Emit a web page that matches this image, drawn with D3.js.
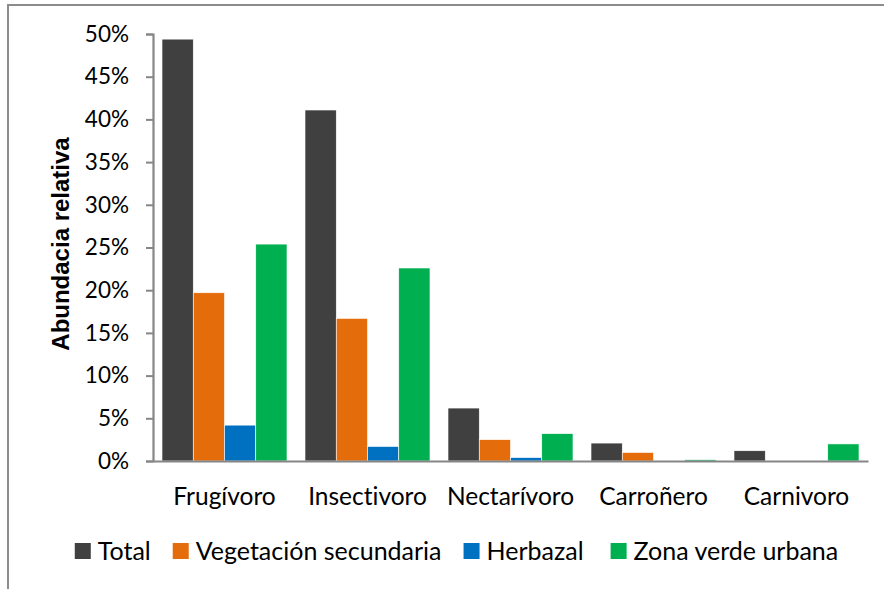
<!DOCTYPE html>
<html>
<head>
<meta charset="utf-8">
<script src="https://cdn.jsdelivr.net/npm/d3@7"></script>
<style>
  html, body { margin: 0; padding: 0; background: #fff; }
  svg { display: block; }
  text { font-variant-ligatures: none; font-feature-settings: "liga" 0; }
</style>
</head>
<body>
<svg id="chart" width="884" height="589"></svg>
<script>
// Gremios tróficos y abundancia relativa (%) por tipo de cobertura
const categories = ["Frugívoro", "Insectivoro", "Nectarívoro", "Carroñero", "Carnivoro"];
const seriesNames = ["Total", "Vegetación secundaria", "Herbazal", "Zona verde urbana"];
const total = [49.4, 41.1, 6.2, 2.1, 1.2];
const vegetacionSecundaria = [19.7, 16.7, 2.5, 1.0, 0];
const herbazal = [4.2, 1.7, 0.4, 0, 0];
const zonaVerdeUrbana = [25.4, 22.6, 3.2, 0.15, 2.0];
const yTicks = [0, 5, 10, 15, 20, 25, 30, 35, 40, 45, 50];
const colors = ["#404040", "#E46C0A", "#0070C0", "#00B050"];

const seriesValues = [total, vegetacionSecundaria, herbazal, zonaVerdeUrbana];
const rows = categories.map((c, i) => ({
  category: c,
  values: seriesNames.map((s, j) => ({ series: s, value: seriesValues[j][i], color: colors[j] }))
}));

const bodyFont = "Lato, 'Open Sans', sans-serif";
const svg = d3.select("#chart");

// chart frame
svg.append("rect")
  .attr("x", 8).attr("y", 5)
  .attr("width", 884).attr("height", 600)
  .attr("fill", "none").attr("stroke", "#8c8c8c").attr("stroke-width", 2);

const plot = { left: 153, right: 868, top: 34, bottom: 461 };

const x = d3.scaleBand()
  .domain(categories)
  .range([plot.left, plot.right])
  .paddingInner(0.126)
  .paddingOuter(0.063);

const xSub = d3.scaleBand()
  .domain(seriesNames)
  .range([0, x.bandwidth()])
  .padding(0);

const y = d3.scaleLinear().domain([0, 50]).range([plot.bottom, plot.top]);

// bars
const groups = svg.append("g").selectAll("g")
  .data(rows)
  .join("g")
  .attr("transform", d => `translate(${x(d.category)},0)`);

groups.selectAll("rect")
  .data(d => d.values.filter(v => v.value > 0))
  .join("rect")
  .attr("x", d => xSub(d.series))
  .attr("width", xSub.bandwidth())
  .attr("y", d => y(d.value))
  .attr("height", d => y(0) - y(d.value))
  .attr("fill", d => d.color)
  .attr("stroke", "#ffffff")
  .attr("stroke-width", 0.6);

// y axis
const yAxis = svg.append("g")
  .attr("transform", `translate(${plot.left},0)`)
  .call(d3.axisLeft(y).tickValues(yTicks).tickFormat(d => d + "%").tickSize(7).tickPadding(17));
yAxis.select(".domain").attr("stroke", "#868686").attr("stroke-width", 2.2);
yAxis.selectAll(".tick line").attr("stroke", "#868686").attr("stroke-width", 2);
yAxis.selectAll(".tick text")
  .style("font-family", bodyFont)
  .style("font-size", "22.5px")
  .attr("fill", "#000");

// x axis baseline
const xAxis = svg.append("g")
  .attr("transform", `translate(0,${plot.bottom})`)
  .call(d3.axisBottom(x).tickSize(0).tickPadding(0));
xAxis.select(".domain").attr("stroke", "#868686").attr("stroke-width", 2.2);
xAxis.selectAll(".tick text")
  .attr("y", 35)
  .attr("dy", "0.35em")
  .style("font-family", bodyFont)
  .style("font-size", "24.5px")
  .attr("fill", "#000");

// y axis title
svg.append("text")
  .attr("transform", "translate(61,244) rotate(-90)")
  .attr("text-anchor", "middle")
  .attr("dy", "0.35em")
  .style("font-family", "'Liberation Sans', Arial, sans-serif")
  .style("font-weight", "bold")
  .style("font-size", "24px")
  .attr("fill", "#000")
  .text("Abundacia relativa");

// legend
const legend = svg.append("g").attr("transform", "translate(0,551)");
const items = legend.selectAll("g")
  .data(seriesNames.map((s, i) => ({ name: s, color: colors[i] })))
  .join("g");
items.append("rect")
  .attr("width", 16).attr("height", 16)
  .attr("y", -8)
  .attr("fill", d => d.color);
items.append("text")
  .attr("x", 23)
  .attr("dy", "0.35em")
  .style("font-family", bodyFont)
  .style("font-size", "25px")
  .attr("fill", "#000")
  .text(d => d.name);

const gaps = [22, 22, 27];
const widths = [];
items.each(function () {
  widths.push(23 + this.querySelector("text").getComputedTextLength());
});
const totalWidth = d3.sum(widths) + d3.sum(gaps);
let cursor = 456.5 - totalWidth / 2;
items.attr("transform", (d, i) => {
  const pos = cursor;
  cursor += widths[i] + (gaps[i] || 0);
  return `translate(${pos},0)`;
});
</script>
</body>
</html>
